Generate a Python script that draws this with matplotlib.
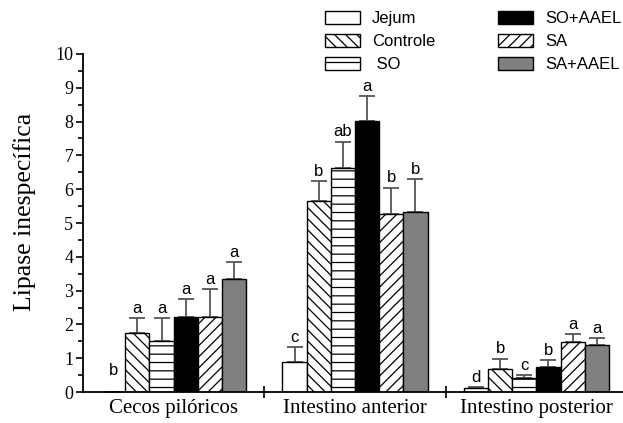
import matplotlib.pyplot as plt
import numpy as np

plt.rcParams['hatch.linewidth'] = 0.9

# data
groups = ['Cecos pilóricos', 'Intestino anterior', 'Intestino posterior']
treatments = ['Jejum', 'Controle', ' SO', 'SO+AAEL', 'SA', 'SA+AAEL']

jejum = [0.0, 0.90, 0.11]
controle = [1.74, 5.66, 0.67]
so = [1.51, 6.62, 0.40]
so_aael = [2.23, 8.03, 0.75]
sa = [2.23, 5.27, 1.47]
sa_aael = [3.35, 5.33, 1.39]

err_jejum = [0.0, 0.44, 0.05]
err_controle = [0.46, 0.58, 0.32]
err_so = [0.69, 0.79, 0.10]
err_so_aael = [0.51, 0.73, 0.19]
err_sa = [0.81, 0.78, 0.24]
err_sa_aael = [0.50, 0.98, 0.20]

let_jejum = ['b', 'c', 'd']
let_controle = ['a', 'b', 'b']
let_so = ['a', 'ab', 'c']
let_so_aael = ['a', 'a', 'b']
let_sa = ['a', 'b', 'a']
let_sa_aael = ['a', 'b', 'a']

means = [jejum, controle, so, so_aael, sa, sa_aael]
errs = [err_jejum, err_controle, err_so, err_so_aael, err_sa, err_sa_aael]
letters = [let_jejum, let_controle, let_so, let_so_aael, let_sa, let_sa_aael]

# styles
faces = ['white', 'white', 'white', 'black', 'white', '#808080']
hatches = [None, '\\\\\\', '--', None, '///', None]

fig = plt.figure(figsize=(6.23, 4.23), dpi=100)
ax = fig.add_axes([83/623, 31/423, 544/623, 338/423])

w = 0.8/6
centers = np.arange(3) + 0.5
for i in range(6):
    x = centers + (i - 2.5)*w
    ax.bar(x, means[i], w, color=faces[i], edgecolor='black', linewidth=1.0,
           hatch=hatches[i], label=treatments[i], zorder=2)
    ax.errorbar(x, means[i], yerr=[np.zeros(3), errs[i]], fmt='none',
                ecolor='#555555', elinewidth=1.3, capsize=5.5, capthick=1.3, zorder=1)
    for j in range(3):
        top = means[i][j] + errs[i][j]
        if means[i][j] == 0:
            top = 0.35
        ax.annotate(letters[i][j], (x[j], top), xytext=(0, 1.5), textcoords='offset points',
                    ha='center', va='bottom', fontsize=12, family='Liberation Sans')

ax.set_xlim(0, 3)
ax.set_ylim(0, 10)
ax.spines['top'].set_visible(False)
ax.spines['right'].set_visible(False)
ax.spines['left'].set_linewidth(1.3)
ax.spines['bottom'].set_linewidth(1.3)

ax.set_yticks(range(11))
ax.set_yticks(np.arange(0.5, 10, 1), minor=True)
ax.tick_params(axis='y', which='major', direction='out', length=5, width=1.2,
               labelsize=13, pad=2)
ax.tick_params(axis='y', which='minor', direction='out', length=3.5, width=1.2)
for t in ax.get_yticklabels():
    t.set_family('Liberation Serif')

ax.set_xticks([1, 2])
ax.set_xticklabels(['', ''])
ax.set_xticks(centers, minor=True)
ax.set_xticklabels(groups, minor=True, family='Liberation Serif', fontsize=15)
ax.tick_params(axis='x', which='major', direction='inout', length=9, width=1.2)
ax.tick_params(axis='x', which='minor', length=0, pad=5)

ax.set_ylabel('Lipase inespecífica', family='Liberation Serif', fontsize=18.5)
ax.yaxis.set_label_coords(-0.086, 0.533)

handles, labels = ax.get_legend_handles_labels()
leg = fig.legend(handles, labels, ncol=2, loc='upper left', bbox_to_anchor=(325/623, 1 - 11/423),
                 frameon=False, prop={'family': 'Liberation Sans', 'size': 12},
                 handlelength=2.1, handleheight=0.85, handletextpad=0.7,
                 columnspacing=3.8, labelspacing=0.45, borderaxespad=0, borderpad=0)

plt.savefig('out.png')
